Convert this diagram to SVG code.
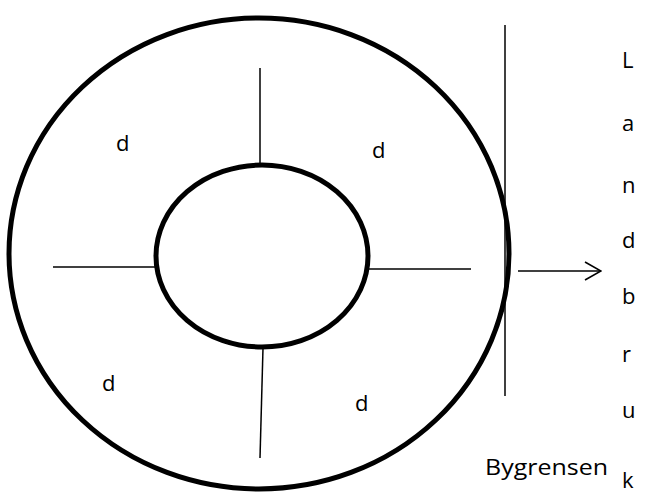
<svg xmlns="http://www.w3.org/2000/svg" width="655" height="493" viewBox="0 0 655 493">
<defs>
<style>
.thick{fill:none;stroke:#000;stroke-width:5}
.thin{fill:none;stroke:#000;stroke-width:1.5}
text{font-family:"Open Sans","Liberation Sans",sans-serif;font-size:22px;fill:#000}
</style>
<marker id="arr" viewBox="0 0 18 20" refX="17" refY="10" markerWidth="18" markerHeight="20" markerUnits="userSpaceOnUse" orient="auto">
<path d="M1,1 L17,10 L1,19" fill="none" stroke="#000" stroke-width="1.6"/>
</marker>
</defs>
<rect width="655" height="493" fill="#fff"/>
<g id="outer"><ellipse class="thick" cx="259" cy="253.5" rx="250" ry="235.5"/></g>
<g id="inner"><ellipse class="thick" cx="262" cy="256" rx="106" ry="91"/></g>
<g id="connectors">
<line class="thin" x1="260" y1="68" x2="260" y2="164"/>
<line class="thin" x1="53" y1="267" x2="156" y2="267"/>
<line class="thin" x1="368" y1="269" x2="471" y2="269"/>
<line class="thin" x1="263" y1="348" x2="260" y2="458"/>
<line class="thin" x1="505" y1="25" x2="505" y2="396"/>
<line class="thin" x1="518" y1="271" x2="601" y2="271" marker-end="url(#arr)"/>
</g>
<g id="labels">
<text x="116" y="151">d</text>
<text x="372" y="158">d</text>
<text x="102" y="391">d</text>
<text x="355" y="411">d</text>
<text x="485" y="475" textLength="123" lengthAdjust="spacingAndGlyphs">Bygrensen</text>
</g>
<g id="landbruk">
<text x="622" y="68">L</text>
<text x="622" y="131">a</text>
<text x="622" y="193">n</text>
<text x="622" y="248">d</text>
<text x="622" y="304">b</text>
<text x="622" y="362">r</text>
<text x="622" y="418">u</text>
<text x="622" y="488">k</text>
</g>
</svg>
